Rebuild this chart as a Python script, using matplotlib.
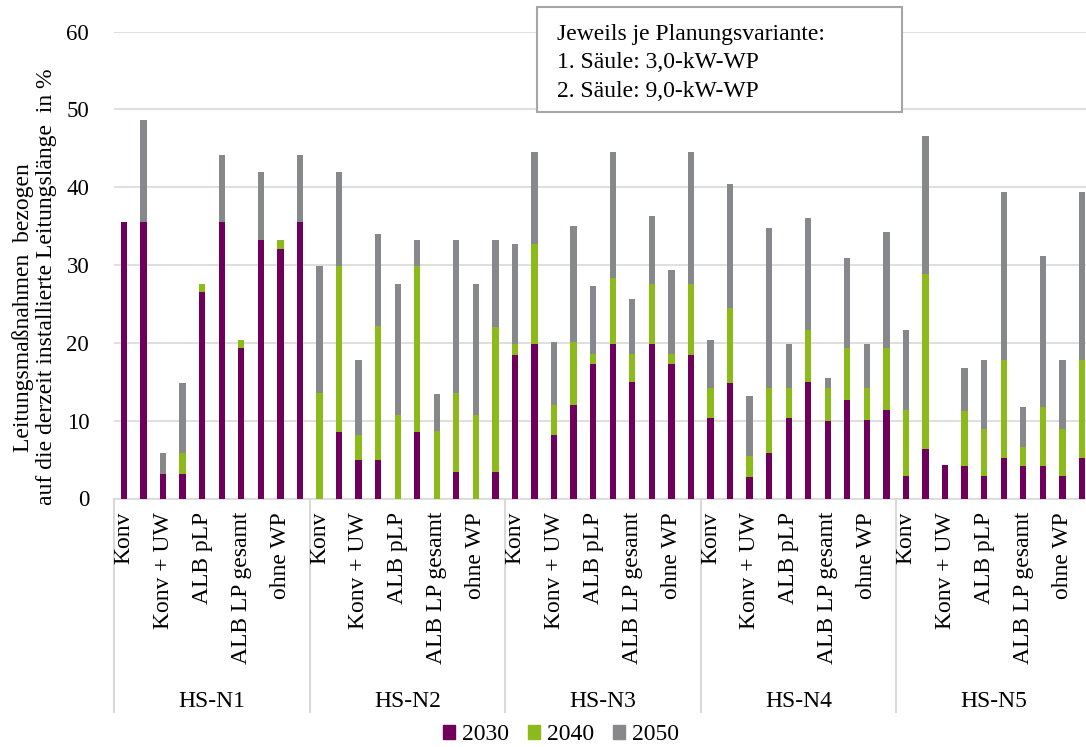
import matplotlib.pyplot as plt
from matplotlib.patches import Rectangle, Patch

plt.rcParams['font.family'] = ['Liberation Serif', 'DejaVu Serif']

# groups and planning variants (two columns per variant: 3,0-kW-WP and 9,0-kW-WP)
groups = ['HS-N1', 'HS-N2', 'HS-N3', 'HS-N4', 'HS-N5']
variants = ['Konv', 'Konv + UW', 'ALB pLP', 'ALB LP gesamt', 'ohne WP']
years = ['2030', '2040', '2050']

# share of line measures in %, segment values per bar (10 bars per group)
v2030 = [35.5, 35.5, 3.2, 3.2, 26.5, 35.5, 19.4, 33.2, 32.1, 35.5,
         0.0, 8.6, 5.0, 5.0, 0.0, 8.6, 0.0, 3.45, 0.0, 3.45,
         18.4, 19.9, 8.1, 12.0, 17.3, 19.9, 15.0, 19.9, 17.3, 18.4,
         10.4, 14.8, 2.7, 5.8, 10.4, 15.0, 9.9, 12.7, 10.1, 11.4,
         2.9, 6.3, 4.3, 4.2, 2.9, 5.2, 4.2, 4.2, 2.9, 5.2]
v2040 = [0.0, 0.0, 0.0, 2.6, 1.1, 0.0, 1.0, 0.0, 1.1, 0.0,
         13.5, 21.3, 3.1, 17.2, 10.7, 21.3, 8.7, 10.05, 10.7, 18.55,
         1.5, 12.8, 3.9, 8.1, 1.3, 8.4, 3.6, 7.7, 1.3, 9.2,
         3.8, 9.7, 2.8, 8.4, 3.8, 6.7, 4.3, 6.7, 4.1, 8.0,
         8.5, 22.5, 0.0, 7.0, 6.0, 12.6, 2.4, 7.5, 6.0, 12.6]
v2050 = [0.0, 13.1, 2.6, 9.0, 0.0, 8.7, 0.0, 8.8, 0.0, 8.7,
         16.4, 12.1, 9.7, 11.8, 16.9, 3.3, 4.7, 19.7, 16.9, 11.2,
         12.8, 11.8, 8.1, 14.9, 8.7, 16.2, 7.1, 8.7, 10.7, 16.9,
         6.2, 15.9, 7.7, 20.5, 5.7, 14.3, 1.3, 11.5, 5.7, 14.8,
         10.3, 17.8, 0.0, 5.6, 8.9, 21.6, 5.1, 19.5, 8.9, 21.6]

colors = ['#6E005C', '#8CBA1A', '#87888C']
W, H = 1086, 747

fig = plt.figure(figsize=(W / 100, H / 100), dpi=100)
# axes runs a little past the right edge, like the cropped original
ax = fig.add_axes([114.2 / W, 1 - 498.5 / H, 977.5 / W, 466.9 / H])

x = list(range(len(v2030)))
bottom2 = v2030
bottom3 = [a + b for a, b in zip(v2030, v2040)]
ax.bar(x, v2030, width=0.32, color=colors[0], zorder=3)
ax.bar(x, v2040, width=0.32, bottom=bottom2, color=colors[1], zorder=3)
ax.bar(x, v2050, width=0.32, bottom=bottom3, color=colors[2], zorder=3)

ax.set_xlim(-0.5, len(x) - 0.5)
ax.set_ylim(0, 60)
ax.set_yticks(range(0, 61, 10))
ax.tick_params(axis='y', length=0, pad=18, labelsize=16.5)
ax.set_xticks([])
ax.grid(axis='y', color='#D9D9D9', lw=1.2, zorder=0)
for s in ['top', 'right', 'left']:
    ax.spines[s].set_visible(False)
ax.spines['bottom'].set_color('#D9D9D9')
ax.spines['bottom'].set_linewidth(1.2)

# multi level category axis
tr = ax.get_xaxis_transform()
for g, name in enumerate(groups):
    for k, var in enumerate(variants):
        ax.text(g * 10 + 2 * k, -0.029, var, rotation=90, ha='center', va='top',
                fontsize=17, transform=tr)
    ax.text(g * 10 + 4.5, -0.4466, name, ha='center', va='baseline',
            fontsize=17, transform=tr)
    ax.plot([g * 10 - 0.5] * 2, [0, -0.457], color='#D9D9D9', lw=1.5,
            transform=tr, clip_on=False)

# y label, two lines
fig.text(23 / W, 1 - 308 / H, 'Leitungsmaßnahmen  bezogen', rotation=90,
         ha='center', va='center', fontsize=17)
fig.text(47 / W, 1 - 287 / H, 'auf die derzeit installierte Leitungslänge  in %',
         rotation=90, ha='center', va='center', fontsize=17)

# info box
fig.add_artist(Rectangle((537 / W, 1 - 112 / H), 365 / W, 105 / H,
                         transform=fig.transFigure, facecolor='white',
                         edgecolor='#A6A6A6', lw=1.5, zorder=5))
box_lines = ['Jeweils je Planungsvariante:', '1. Säule: 3,0-kW-WP', '2. Säule: 9,0-kW-WP']
for i, line in enumerate(box_lines):
    fig.text(557 / W, 1 - (40 + 28.3 * i) / H, line, ha='left', va='baseline',
             fontsize=17, zorder=6)

handles = [Patch(color=c) for c in colors]
fig.legend(handles, years, loc='center', bbox_to_anchor=(561 / W, 1 - 735 / H),
           ncol=3, frameon=False, fontsize=17, handlelength=0.5, handleheight=0.5,
           handletextpad=0.3, columnspacing=0.8, borderpad=0)

plt.savefig('out.png', dpi=100)
